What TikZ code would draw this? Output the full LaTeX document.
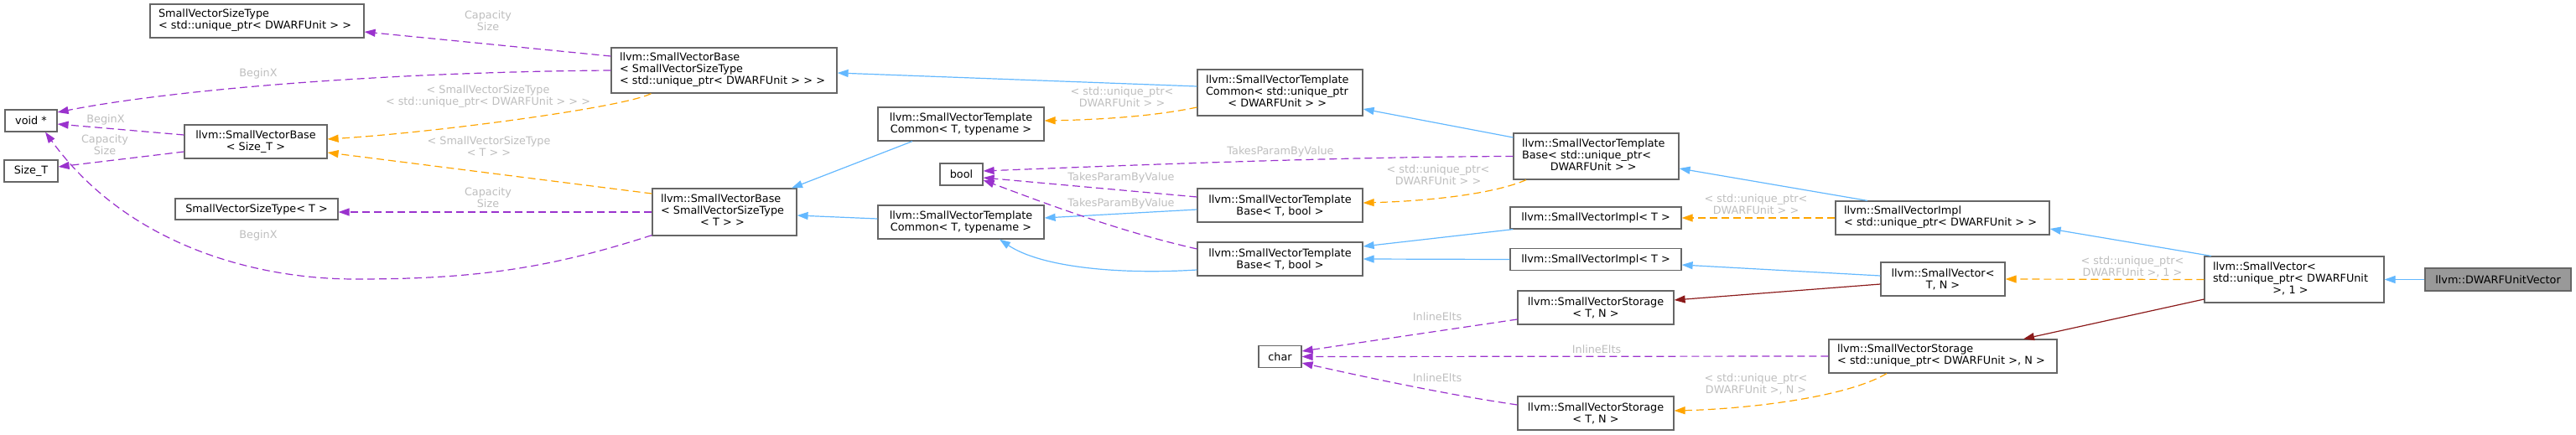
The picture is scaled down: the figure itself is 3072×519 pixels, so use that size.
\documentclass[tikz,border=0pt]{standalone}
\usepackage{fontspec}
\newfontfamily\dxfont{DejaVu Sans}
\usetikzlibrary{arrows.meta}
\definecolor{inhblue}{HTML}{63B8FF}
\definecolor{usepurple}{HTML}{9A32CD}
\definecolor{tplorange}{HTML}{FFA500}
\definecolor{privred}{HTML}{8B1A1A}
\definecolor{boxgrey}{HTML}{666666}
\definecolor{lblgrey}{HTML}{BEBEBE}
\definecolor{mainfill}{HTML}{999999}
\newcommand{\lc}[2]{\begin{tabular}{@{}l@{}}#1\\\multicolumn{1}{@{}c@{}}{#2}\end{tabular}}
\begin{document}
\begin{tikzpicture}[x=1pt, y=-1pt,
		cls/.style={draw=boxgrey, fill=white, line width=1.2pt, inner xsep=2pt, inner ysep=0pt, align=center, font=\dxfont\fontsize{12.8}{14}\selectfont},
		lcls/.style={cls, inner xsep=10pt, text width=#1, align=left},
		inh/.style={-{Triangle[length=13pt,width=9pt]}, draw=inhblue, line width=1.2pt},
		use/.style={inh, draw=usepurple, dash pattern=on 9pt off 5pt},
		tpl/.style={use, draw=tplorange},
		prv/.style={inh, draw=privred},
		lbl/.style={text=lblgrey, align=center, inner sep=0pt, font=\dxfont\fontsize{12.8}{14}\selectfont}]
		\useasboundingbox (0,0) rectangle (3072,519);
		% classes
		\node[lcls=235pt, minimum height=40pt] (szup) at (306.5,25) {\lc{SmallVectorSizeType}{< std::unique\_ptr< DWARFUnit > >}};
		\node[cls, minimum width=62pt, minimum height=26pt] (voidp) at (37,144) {void *};
		\node[cls, minimum width=170pt, minimum height=40pt] (svbsize) at (305,169) {llvm::SmallVectorBase\\< Size\_T >};
		\node[cls, minimum width=64pt, minimum height=26pt] (sizet) at (37,204) {Size\_T};
		\node[cls, minimum width=194pt, minimum height=25pt] (szt) at (306,249.5) {SmallVectorSizeType< T >};
		\node[lcls=249pt, minimum height=54pt] (svbup) at (863.5,84) {\lc{llvm::SmallVectorBase\\< SmallVectorSizeType}{< std::unique\_ptr< DWARFUnit > > >}};
		\node[lcls=152pt, minimum height=56pt] (svbt) at (864,253) {\lc{llvm::SmallVectorBase\\< SmallVectorSizeType}{< T > >}};
		\node[lcls=177pt, minimum height=55pt] (svtcup) at (1526.5,110.5) {\lc{llvm::SmallVectorTemplate\\Common< std::unique\_ptr}{< DWARFUnit > >}};
		\node[cls, minimum width=198pt, minimum height=40pt] (svtct1) at (1146,148) {llvm::SmallVectorTemplate\\Common< T, typename >};
		\node[cls, minimum width=51pt, minimum height=26pt] (boolt) at (1146.5,208) {bool};
		\node[cls, minimum width=198pt, minimum height=40pt] (svtct2) at (1146,265) {llvm::SmallVectorTemplate\\Common< T, typename >};
		\node[lcls=177pt, minimum height=55pt] (svtbup) at (1903.5,186.5) {\lc{llvm::SmallVectorTemplate\\Base< std::unique\_ptr<}{DWARFUnit > >}};
		\node[cls, minimum width=197pt, minimum height=40pt] (svtbb1) at (1526.5,245) {llvm::SmallVectorTemplate\\Base< T, bool >};
		\node[cls, minimum width=197pt, minimum height=40pt] (svtbb2) at (1526.5,309) {llvm::SmallVectorTemplate\\Base< T, bool >};
		\node[cls, minimum width=204pt, minimum height=26pt] (svimpt1) at (1903,260) {llvm::SmallVectorImpl< T >};
		\node[cls, minimum width=204pt, minimum height=26pt] (svimpt2) at (1903,309.5) {llvm::SmallVectorImpl< T >};
		\node[cls, minimum width=186pt, minimum height=40pt] (svstt1) at (1903,367) {llvm::SmallVectorStorage\\< T, N >};
		\node[cls, minimum width=51pt, minimum height=26pt] (chart) at (1526.5,425.5) {char};
		\node[cls, minimum width=186pt, minimum height=40pt] (svstt2) at (1903,493) {llvm::SmallVectorStorage\\< T, N >};
		\node[lcls=235pt, minimum height=40pt] (svimpup) at (2316.5,260) {\lc{llvm::SmallVectorImpl}{< std::unique\_ptr< DWARFUnit > >}};
		\node[cls, minimum width=148pt, minimum height=40pt] (svtn) at (2317,333) {llvm::SmallVector<\\T, N >};
		\node[lcls=252pt, minimum height=40pt] (svstup) at (2317,425) {\lc{llvm::SmallVectorStorage}{< std::unique\_ptr< DWARFUnit >, N >}};
		\node[lcls=194pt, minimum height=55pt] (svup1) at (2736,333.5) {\lc{llvm::SmallVector<\\std::unique\_ptr< DWARFUnit}{>, 1 >}};
		\node[cls, fill=mainfill, minimum width=174pt, minimum height=27pt] (duvec) at (2979,333.5) {llvm::DWARFUnitVector};
		% edge labels
		\node[lbl] (capup) at (582,25) {Capacity\\Size};
		\node[lbl] (bxup) at (308,88) {BeginX};
		\node[lbl] (argup) at (582,115) {< SmallVectorSizeType\\< std::unique\_ptr< DWARFUnit > > >};
		\node[lbl] (bxsize) at (126,143) {BeginX};
		\node[lbl] (capsize) at (125,173) {Capacity\\Size};
		\node[lbl] (argt) at (583,175) {< SmallVectorSizeType\\< T > >};
		\node[lbl] (capt) at (582,236) {Capacity\\Size};
		\node[lbl] (bxt) at (308,281) {BeginX};
		\node[lbl] (argcom) at (1338,116) {< std::unique\_ptr<\\DWARFUnit > >};
		\node[lbl] (tpvup) at (1527,181) {TakesParamByValue};
		\node[lbl] (tpv1) at (1337,212) {TakesParamByValue};
		\node[lbl] (tpv2) at (1337,243) {TakesParamByValue};
		\node[lbl] (argbase) at (1715,209) {< std::unique\_ptr<\\DWARFUnit > >};
		\node[lbl] (argimpl) at (2094,244) {< std::unique\_ptr<\\DWARFUnit > >};
		\node[lbl] (ie1) at (1714,378) {InlineElts};
		\node[lbl] (ie2) at (1904,417) {InlineElts};
		\node[lbl] (ie3) at (1714,451) {InlineElts};
		\node[lbl] (argsto) at (2094,458) {< std::unique\_ptr<\\DWARFUnit >, N >};
		\node[lbl] (argvec) at (2543,318) {< std::unique\_ptr<\\DWARFUnit >, 1 >};
		% connectors
		\draw[use] ([yshift=17pt]svbup.west) -- ([yshift=-13pt]szup.east);
		\draw[use] (svbup.west) .. controls (450,86) and (200,108) .. ([yshift=10pt]voidp.east);
		\draw[use] ([yshift=8pt]svbsize.west) -- ([yshift=-4pt]voidp.east);
		\draw[use] ([yshift=-12pt]svbsize.west) -- ([yshift=5pt]sizet.east);
		\draw[tpl] ([xshift=-87pt]svbup.south) .. controls (745,128) and (520,158) .. ([yshift=3pt]svbsize.east);
		\draw[tpl] ([yshift=22pt]svbt.west) -- ([yshift=-13pt]svbsize.east);
		\draw[use] (svbt.west) -- ([yshift=-3.5pt]szt.east);
		\draw[use] ([yshift=1pt]svbt.south west) .. controls (650,322) and (560,333) .. (424,333) .. controls (300,333) and (150,290) .. ([xshift=17pt]voidp.south);
		\draw[inh] ([yshift=7.5pt]svtcup.west) -- ([yshift=-3pt]svbup.east);
		\draw[tpl] ([yshift=-17.5pt]svtcup.west) .. controls (1370,140) and (1300,143) .. ([yshift=4pt]svtct1.east);
		\draw[inh] ([xshift=-58pt]svtct1.south) -- ([xshift=80pt]svbt.north);
		\draw[inh] ([yshift=4pt]svtct2.west) -- ([yshift=-4pt]svbt.east);
		\draw[inh] ([yshift=22.5pt]svtbup.west) -- ([yshift=-19.5pt]svtcup.east);
		\draw[use] (svtbup.west) .. controls (1600,187) and (1350,197) .. ([yshift=4pt]boolt.east);
		\draw[tpl] ([xshift=-83.5pt]svtbup.south) .. controls (1780,232) and (1700,240) .. ([yshift=3pt]svtbb1.east);
		\draw[use] ([yshift=10pt]svtbb1.west) -- ([yshift=-4pt]boolt.east);
		\draw[inh] ([yshift=-5pt]svtbb1.west) -- ([yshift=5pt]svtct2.east);
		\draw[use] ([yshift=12pt]svtbb2.west) .. controls (1330,275) and (1240,240) .. ([yshift=-7pt]boolt.east);
		\draw[inh] ([yshift=-13pt]svtbb2.west) .. controls (1330,328) and (1240,318) .. ([xshift=46pt]svtct2.south);
		\draw[inh] ([xshift=-89.5pt]svimpup.north) -- ([yshift=-14.5pt]svtbup.east);
		\draw[tpl] (svimpup.west) -- (svimpt1.east);
		\draw[inh] ([xshift=4pt]svimpt1.south west) -- ([yshift=15pt]svtbb2.east);
		\draw[inh] (svimpt2.west) -- (svtbb2.east);
		\draw[inh] ([yshift=4pt]svtn.west) -- ([yshift=-6.5pt]svimpt2.east);
		\draw[prv] ([yshift=-6pt]svtn.west) -- ([yshift=9pt]svstt1.east);
		\draw[use] ([yshift=-14pt]svstt1.west) -- ([yshift=6.5pt]chart.east);
		\draw[use] (svstup.west) -- (chart.east);
		\draw[use] ([yshift=10pt]svstt2.west) .. controls (1720,470) and (1620,448) .. ([yshift=-7.5pt]chart.east);
		\draw[tpl] ([xshift=-67pt]svstup.south) .. controls (2200,475) and (2080,488) .. ([yshift=3pt]svstt2.east);
		\draw[inh] ([xshift=-99pt]svup1.north) -- ([yshift=-13pt]svimpup.east);
		\draw[tpl] (svup1.west) -- (svtn.east);
		\draw[prv] ([yshift=-23.5pt]svup1.west) -- ([xshift=96pt]svstup.north);
		\draw[inh] (duvec.west) -- (svup1.east);
\end{tikzpicture}
\end{document}
